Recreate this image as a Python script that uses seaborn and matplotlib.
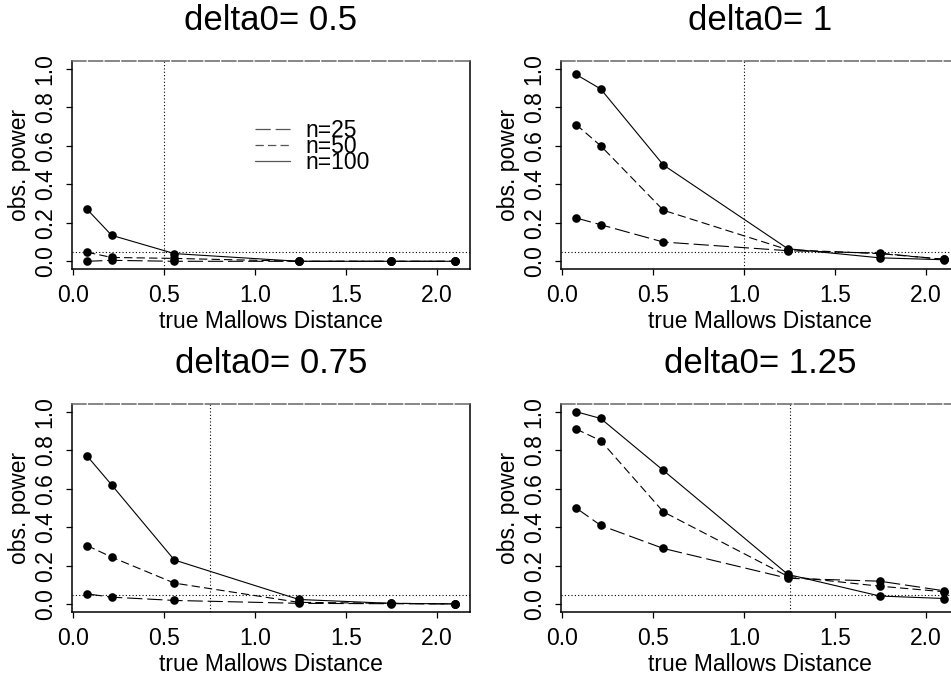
import numpy as np
import pandas as pd
import matplotlib
matplotlib.use("Agg")
import matplotlib.pyplot as plt
import seaborn as sns
from matplotlib.lines import Line2D

# ---------------- data ----------------
true_dist = [0.075, 0.21, 0.555, 1.24, 1.745, 2.1]
delta0_values = [0.5, 1, 0.75, 1.25]
sample_sizes = ["n=25", "n=50", "n=100"]

power_d050_n25 = [0.0, 0.005, 0.0, 0.0, 0.0, 0.0]
power_d050_n50 = [0.047, 0.02, 0.015, 0.0, 0.0, 0.0]
power_d050_n100 = [0.27, 0.135, 0.04, 0.0, 0.0, 0.0]

power_d100_n25 = [0.225, 0.19, 0.10, 0.055, 0.042, 0.01]
power_d100_n50 = [0.71, 0.60, 0.265, 0.06, 0.04, 0.01]
power_d100_n100 = [0.97, 0.895, 0.50, 0.065, 0.018, 0.008]

power_d075_n25 = [0.054, 0.037, 0.02, 0.005, 0.003, 0.002]
power_d075_n50 = [0.305, 0.245, 0.11, 0.01, 0.005, 0.002]
power_d075_n100 = [0.77, 0.62, 0.23, 0.025, 0.005, 0.002]

power_d125_n25 = [0.50, 0.41, 0.29, 0.135, 0.12, 0.07]
power_d125_n50 = [0.91, 0.85, 0.48, 0.145, 0.094, 0.065]
power_d125_n100 = [1.0, 0.965, 0.695, 0.155, 0.043, 0.03]

alpha_level = 0.05

panels = {
    0.5: [power_d050_n25, power_d050_n50, power_d050_n100],
    1: [power_d100_n25, power_d100_n50, power_d100_n100],
    0.75: [power_d075_n25, power_d075_n50, power_d075_n100],
    1.25: [power_d125_n25, power_d125_n50, power_d125_n100],
}

# ---------------- style ----------------
sns.set_style("ticks")
plt.rcParams["font.family"] = ["Liberation Sans", "DejaVu Sans"]
plt.rcParams["lines.scale_dashes"] = False
plt.rcParams["text.color"] = "black"
plt.rcParams["axes.labelcolor"] = "black"
plt.rcParams["xtick.color"] = "black"
plt.rcParams["ytick.color"] = "black"
plt.rcParams["xtick.labelcolor"] = "black"
plt.rcParams["ytick.labelcolor"] = "black"

line_styles = {
    "n=25": (0, (11, 3.5)),
    "n=50": (0, (6, 3)),
    "n=100": "-",
}

W, H = 951, 679
fig = plt.figure(figsize=(W / 100, H / 100), dpi=100)

# axes boxes in pixels: left, top, width, height
boxes = [(72, 61), (561, 61), (72, 404), (561, 404)]
aw, ah = 398, 208

for (px, py), d0 in zip(boxes, delta0_values):
    ax = fig.add_axes([px / W, 1 - (py + ah) / H, aw / W, ah / H])
    rows = []
    for lab, vals in zip(sample_sizes, panels[d0]):
        for xv, yv in zip(true_dist, vals):
            rows.append({"dist": xv, "power": yv, "n": lab})
    df = pd.DataFrame(rows)
    for lab in sample_sizes:
        sub = df[df["n"] == lab]
        sns.lineplot(data=sub, x="dist", y="power", ax=ax, color="black",
                     linestyle=line_styles[lab], linewidth=0.8,
                     marker="o", markersize=6.2, markeredgewidth=0,
                     markerfacecolor="black", legend=False, estimator=None,
                     sort=False)
    ax.axhline(alpha_level, color="black", linewidth=0.8, linestyle=(0, (0.8, 1.6)))
    ax.axvline(d0, color="black", linewidth=0.8, linestyle=(0, (0.8, 1.6)))

    ax.set_xlim(-0.008, 2.181)
    ax.set_ylim(-0.04, 1.04)
    ax.set_xticks([0.0, 0.5, 1.0, 1.5, 2.0])
    ax.set_xticklabels(["0.0", "0.5", "1.0", "1.5", "2.0"], fontsize=16.5,
                       color="black")
    ax.set_yticks([0.0, 0.2, 0.4, 0.6, 0.8, 1.0])
    ax.set_yticklabels(["0.0", "0.2", "0.4", "0.6", "0.8", "1.0"], fontsize=16.5,
                       rotation=90, va="center", color="black")
    ax.tick_params(axis="both", length=4, width=0.9, pad=7, colors="black")
    ax.set_xlabel("true Mallows Distance", fontsize=16.5, labelpad=2, color="black")
    ax.set_ylabel("obs. power", fontsize=16.5, labelpad=2, color="black")
    ax.set_title(f"delta0= {d0}", fontsize=25, pad=22, color="black")
    for side in ["left", "right", "bottom"]:
        ax.spines[side].set_visible(True)
        ax.spines[side].set_color("black")
        ax.spines[side].set_linewidth(1.1)
    ax.spines["top"].set_visible(True)
    ax.spines["top"].set_color("#666666")
    ax.spines["top"].set_linewidth(1.1)
    ax.spines["top"].set_linestyle((0, (10, 2)))

    if d0 == 0.5:
        handles = [Line2D([], [], color="#555555", linewidth=0.9,
                          linestyle=line_styles[lab]) for lab in sample_sizes]
        leg = ax.legend(handles, sample_sizes, loc="center left",
                        bbox_to_anchor=(0.461, 0.588), frameon=False,
                        fontsize=16.5, handlelength=1.5, handletextpad=0.7,
                        labelspacing=-0.3, borderpad=0, borderaxespad=0)
        for t in leg.get_texts():
            t.set_color("black")

fig.savefig("out.png", dpi=100, facecolor="white")
